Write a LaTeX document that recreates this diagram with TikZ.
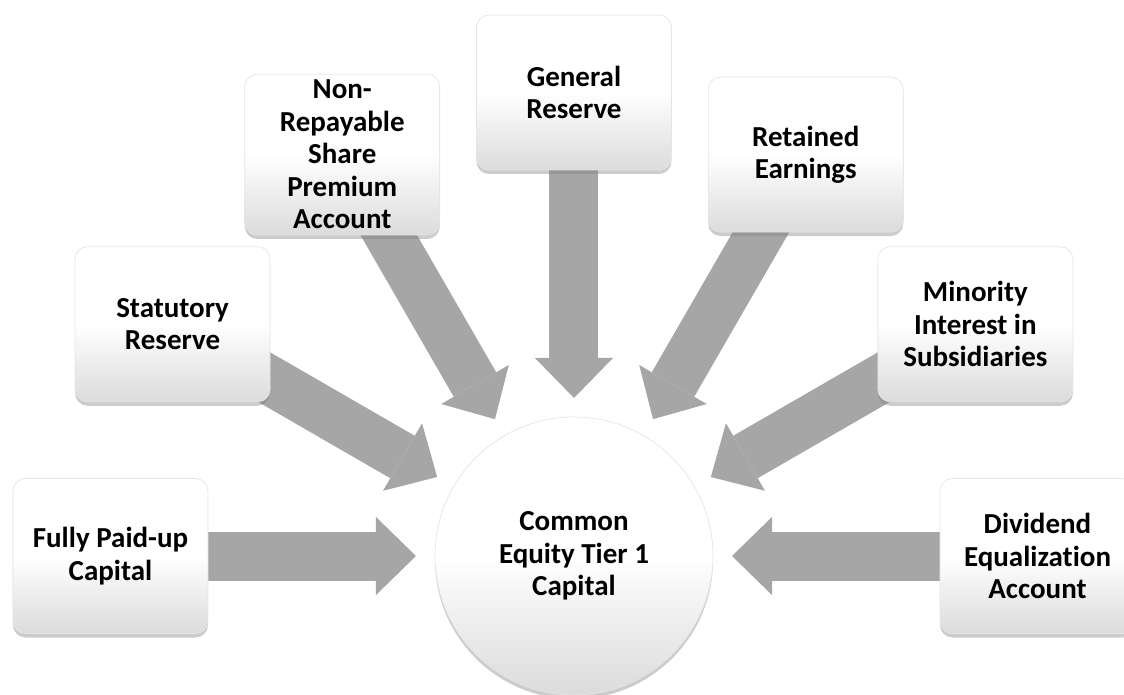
\documentclass[tikz,border=0pt]{standalone}
\usepackage{fontspec}
\setmainfont{Carlito}[Ligatures=NoCommon]
\usetikzlibrary{arrows.meta,shadows,backgrounds,calc}
\definecolor{arrowgray}{HTML}{A6A6A6}
\begin{document}
\begin{tikzpicture}[
    srcbox/.style={draw=black!10, rounded corners=0.25cm, minimum width=3.9cm, minimum height=3.1cm,
        align=center, font=\fontsize{16.5}{18.5}\selectfont\bfseries,
        top color=white, bottom color=black!14, middle color=white,
        drop shadow={shadow xshift=0pt, shadow yshift=-0.08cm, opacity=0.4}},
    hub/.style={circle, draw=black!10, minimum size=5.56cm, inner sep=0pt,
        align=center, font=\fontsize{16.5}{18.5}\selectfont\bfseries,
        top color=white, bottom color=black!14, middle color=white,
        drop shadow={shadow xshift=0pt, shadow yshift=-0.08cm, opacity=0.4}},
    bigarrow/.style={draw=arrowgray, line width=0.98cm, -{Triangle[length=0.8cm,width=1.56cm,line width=0pt]}}
]
\useasboundingbox (-11.48,-2.76) rectangle (11.0,11.12);
\node[hub] (cet1) at (0,0) {Common\\Equity Tier 1\\Capital};
\node[srcbox] (paid) at (180:9.27) {Fully Paid-up\\Capital};
\node[srcbox] (stat) at (150:9.27) {Statutory\\Reserve};
\node[srcbox] (prem) at (120:9.27) {Non-\\Repayable\\Share\\Premium\\Account};
\node[srcbox] (genr) at (90:9.27) {General\\Reserve};
\node[srcbox] (reta) at (60:9.27) {Retained\\Earnings};
\node[srcbox] (mino) at (30:9.27) {Minority\\Interest in\\Subsidiaries};
\node[srcbox] (divi) at (0:9.27) {Dividend\\Equalization\\Account};
\begin{scope}[on background layer]
\foreach \src in {paid,stat,prem,genr,reta,mino,divi}
    \draw[bigarrow] (\src.center) -- ($(cet1.center)!3.16cm!(\src.center)$);
\end{scope}
\end{tikzpicture}
\end{document}
